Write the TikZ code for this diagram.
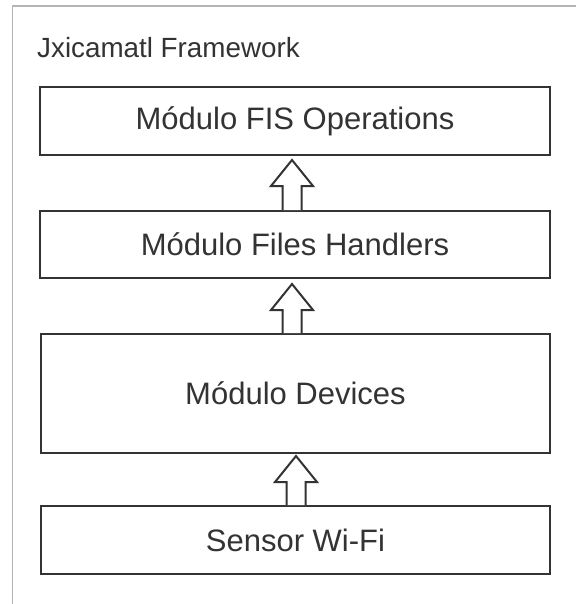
\documentclass[tikz,border=0pt]{standalone}
\usepackage{fontspec}
\setmainfont{Liberation Sans}
\usetikzlibrary{calc}
\definecolor{ink}{HTML}{333333}
\definecolor{framegray}{HTML}{B4B4B4}
\tikzset{
  modbox/.style={draw=ink, line width=2pt, fill=white, text=ink,
    font=\fontsize{31}{37}\selectfont, inner sep=0pt},
  hollowarrow/.style={draw=ink, line width=2pt, fill=white, line join=miter},
  titletext/.style={text=ink, font=\fontsize{27.8}{33}\selectfont, inner sep=0pt, anchor=base west}
}
% Block arrow from base point #1 up to tip point #2
\newcommand\blockup[2]{%
  \draw[hollowarrow] ($(#1)+(-9.5,0)$) -- ($(#2)+(-9.5,26)$) -- ($(#2)+(-21,26)$)
    -- (#2) -- ($(#2)+(21,26)$) -- ($(#2)+(9.5,26)$) -- ($(#1)+(9.5,0)$);}
\begin{document}
\begin{tikzpicture}[x=1pt,y=-1pt]
\useasboundingbox (0,0) rectangle (576,604);
% surrounding frame
\draw[framegray, line width=1.3pt] (12.5,604) -- (12.5,6) -- (576,6);
\node[titletext] (title) at (37,58) {Jxicamatl Framework};
% module boxes
\node[modbox, minimum width=510pt, minimum height=68pt] (b1) at (295,121) {Módulo FIS Operations};
\node[modbox, minimum width=510pt, minimum height=67pt] (b2) at (295,244.5) {Módulo Files Handlers};
\node[modbox, minimum width=509pt, minimum height=119pt] (b3) at (295.5,393.5) {Módulo Devices};
\node[modbox, minimum width=509pt, minimum height=68pt] (b4) at (295.5,540) {Sensor Wi-Fi};
% arrow columns
\coordinate (xa) at (292,0);
\coordinate (xb) at (296,0);
\coordinate (a1b) at (b2.north -| xa);
\coordinate (a1t) at ($(b1.south -| xa)+(0,4)$);
\coordinate (a2b) at (b3.north -| xa);
\coordinate (a2t) at ($(b2.south -| xa)+(0,5)$);
\coordinate (a3b) at (b4.north -| xb);
\coordinate (a3t) at ($(b3.south -| xb)+(0,2)$);
\blockup{a1b}{a1t}
\blockup{a2b}{a2t}
\blockup{a3b}{a3t}
\end{tikzpicture}
\end{document}
